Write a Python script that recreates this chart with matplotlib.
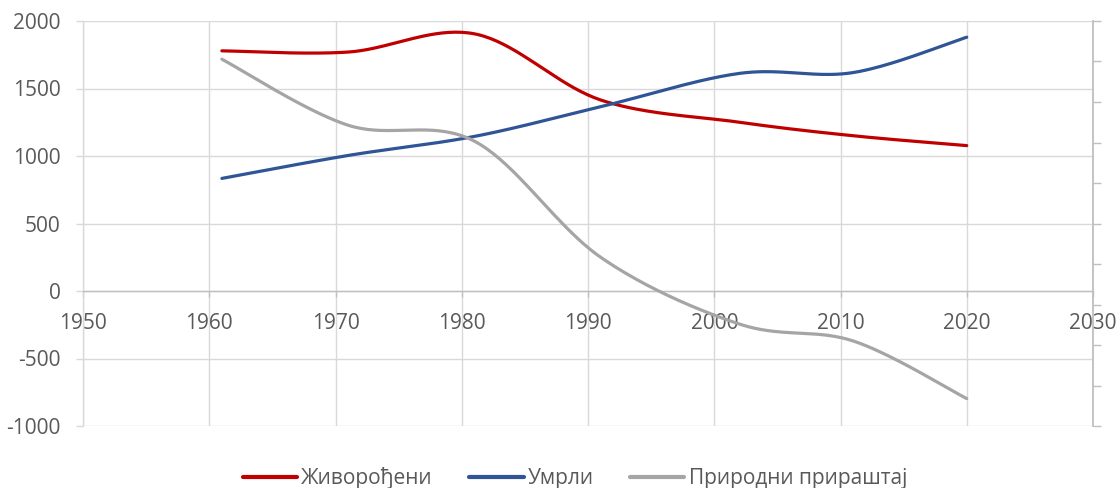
import numpy as np
import matplotlib
matplotlib.use("Agg")
import matplotlib.pyplot as plt

plt.rcParams['font.family'] = ['Open Sans', 'DejaVu Sans']
plt.rcParams['axes.unicode_minus'] = False

# ---- data ----
years = [1961, 1971, 1981, 1991, 2002, 2011, 2020]
births = [1779, 1770, 1905, 1415, 1250, 1150, 1077]      # Живорођени
deaths = [834, 1004, 1145, 1365, 1612, 1618, 1880]       # Умрли
natural = [1717, 1228, 1110, 250, -245, -370, -797]      # Природни прираштај
series_names = ["Живорођени", "Умрли", "Природни прираштај"]
series_colors = ["#C00000", "#2F5597", "#A5A5A5"]
x_ticks = list(range(1950, 2031, 10))
y_ticks = list(range(-1000, 2001, 500))


def smooth(xs, ys, n=40):
    """Excel-like smoothed line: cubic Bezier with Catmull-Rom control points."""
    P = np.column_stack([xs, ys]).astype(float)
    m = len(P)
    out = []
    for i in range(m - 1):
        p0 = P[max(i - 1, 0)]
        p1 = P[i]
        p2 = P[i + 1]
        p3 = P[min(i + 2, m - 1)]
        c1 = p1 + (p2 - p0) / 6.0
        c2 = p2 - (p3 - p1) / 6.0
        t = np.linspace(0, 1, n)[:, None]
        seg = ((1 - t) ** 3) * p1 + 3 * ((1 - t) ** 2) * t * c1 + 3 * (1 - t) * t ** 2 * c2 + t ** 3 * p2
        if i > 0:
            seg = seg[1:]
        out.append(seg)
    out = np.vstack(out)
    return out[:, 0], out[:, 1]


fig = plt.figure(figsize=(11.2, 4.88), dpi=100)
ax = fig.add_axes([83 / 1120, 1 - 426 / 488, (1093 - 83) / 1120, (426 - 21) / 488])

ax.set_xlim(1950, 2030)
ax.set_ylim(-1000, 2000)
ax.set_xticks(x_ticks)
ax.set_yticks(y_ticks)

grid_c = "#D9D9D9"
axis_c = "#BFBFBF"
text_c = "#595959"

ax.grid(True, color=grid_c, linewidth=1.0)
ax.set_axisbelow(True)

for name, vals, col in zip(series_names, [births, deaths, natural], series_colors):
    sx, sy = smooth(years, vals)
    ax.plot(sx, sy, color=col, linewidth=2.3, label=name, solid_capstyle='round', zorder=3)

# spines
ax.spines['bottom'].set_position(('data', 0))
ax.spines['bottom'].set_color(axis_c)
ax.spines['bottom'].set_linewidth(1.0)
ax.spines['left'].set_color(grid_c)
ax.spines['left'].set_linewidth(1.0)
ax.spines['top'].set_visible(False)
ax.spines['right'].set_visible(False)

ax.tick_params(axis='x', direction='out', length=4, width=1.0, color=axis_c,
               labelsize=15, labelcolor=text_c, pad=12)
ax.tick_params(axis='y', direction='out', length=5, width=1.0, color=grid_c,
               labelsize=15, labelcolor=text_c, pad=11)

# secondary right axis (no labels)
ax2 = ax.twinx()
ax2.set_ylim(-1000, 2000)
ax2.set_yticks(list(range(-1000, 2001, 300)))
ax2.set_yticklabels([])
for s in ['top', 'bottom', 'left']:
    ax2.spines[s].set_visible(False)
ax2.spines['right'].set_color(axis_c)
ax2.spines['right'].set_linewidth(1.3)
ax2.tick_params(axis='y', direction='out', length=6, width=1.0, color=axis_c)

handles, labels = ax.get_legend_handles_labels()
leg = fig.legend(handles, labels, loc='center', bbox_to_anchor=(575 / 1120, 10 / 488),
                 ncol=3, frameon=False, fontsize=15, handlelength=2.6,
                 handletextpad=0.2, columnspacing=1.75)
for t in leg.get_texts():
    t.set_color(text_c)
for l in leg.get_lines():
    l.set_linewidth(3.0)

fig.savefig("out.png", dpi=100)
